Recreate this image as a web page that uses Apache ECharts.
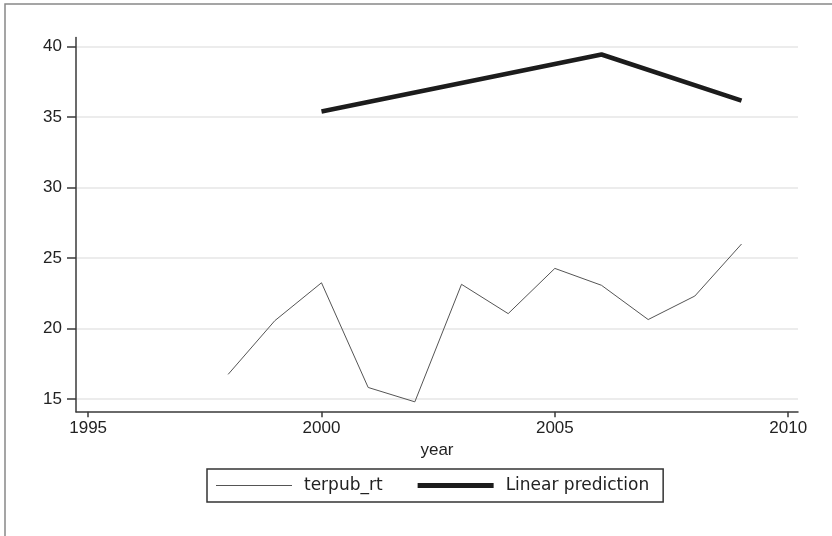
<!DOCTYPE html>
<html>
<head>
<meta charset="utf-8">
<script src="https://cdn.jsdelivr.net/npm/echarts@6/dist/echarts.min.js"></script>
<style>
html,body{margin:0;padding:0;background:#fff;}
#chart{width:832px;height:536px;}
</style>
</head>
<body>
<div id="chart"></div>
<script>
// Data
var years = [1998, 1999, 2000, 2001, 2002, 2003, 2004, 2005, 2006, 2007, 2008, 2009];
var terpubRt = [16.75, 20.56, 23.25, 15.82, 14.8, 23.14, 21.06, 24.27, 23.07, 20.64, 22.31, 26.0];
var predYears = [2000, 2006, 2009];
var linearPrediction = [35.4, 39.45, 36.17];
var xTicks = [1995, 2000, 2005, 2010];
var yTicks = [15, 20, 25, 30, 35, 40];
var seriesNames = ['terpub_rt', 'Linear prediction'];

function pairs(xs, ys) {
  var out = [];
  for (var i = 0; i < xs.length; i++) out.push([xs[i], ys[i]]);
  return out;
}

var chart = echarts.init(document.getElementById('chart'));
var axisColor = '#3a3a3a';
chart.setOption({
  animation: false,
  backgroundColor: '#fff',
  graphic: [{
    type: 'rect',
    shape: { x: 5, y: 4, width: 900, height: 600 },
    style: { fill: 'none', stroke: '#888', lineWidth: 1.5 },
    silent: true
  }],
  grid: { left: 76, right: 34, top: 37.6, bottom: 124.3, containLabel: false },
  legend: {
    left: 207, top: 469,
    orient: 'horizontal',
    padding: [8, 14, 8, 9],
    borderColor: '#333', borderWidth: 1.5,
    itemWidth: 76, itemHeight: 14, itemGap: 35,
    textStyle: { fontFamily: 'DejaVu Sans', fontSize: 17, color: '#222', padding: [0, 0, 0, 7] },
    data: [
      { name: seriesNames[0], icon: 'path://M0,0 L76,0 L76,1 L0,1 Z', itemStyle: { color: '#555' } },
      { name: seriesNames[1], icon: 'path://M0,0 L76,0 L76,5 L0,5 Z', itemStyle: { color: '#1c1c1c' } }
    ]
  },
  xAxis: {
    type: 'value',
    min: 1994.74, max: 2010.21,
    name: 'year', nameLocation: 'middle', nameGap: 25,
    nameTextStyle: { fontFamily: 'Liberation Sans', fontSize: 17, color: '#222' },
    axisLine: { show: true, lineStyle: { color: axisColor, width: 1.5 } },
    axisTick: { show: true, length: 5.5, lineStyle: { color: axisColor, width: 1.5 }, customValues: xTicks },
    axisLabel: { show: true, margin: 8, fontFamily: 'Liberation Sans', fontSize: 17, color: '#222', customValues: xTicks,
      formatter: function (v) { return String(Math.round(v)); } },
    splitLine: { show: false }
  },
  yAxis: {
    type: 'value',
    min: 14.1, max: 40.65,
    axisLine: { show: true, lineStyle: { color: axisColor, width: 1.5 } },
    axisTick: { show: true, length: 9, lineStyle: { color: axisColor, width: 1.5 }, customValues: yTicks },
    axisLabel: { show: true, margin: 14, fontFamily: 'Liberation Sans', fontSize: 17, color: '#222', customValues: yTicks },
    splitLine: { show: true, lineStyle: { color: '#e6e6e6', width: 1.5 } }
  },
  series: [
    {
      name: seriesNames[0], type: 'line', symbol: 'none',
      data: pairs(years, terpubRt),
      lineStyle: { color: '#555', width: 1 },
      itemStyle: { color: '#555' }
    },
    {
      name: seriesNames[1], type: 'line', symbol: 'none',
      data: pairs(predYears, linearPrediction),
      lineStyle: { color: '#1c1c1c', width: 4.5 },
      itemStyle: { color: '#1c1c1c' }
    }
  ]
});
</script>
</body>
</html>
